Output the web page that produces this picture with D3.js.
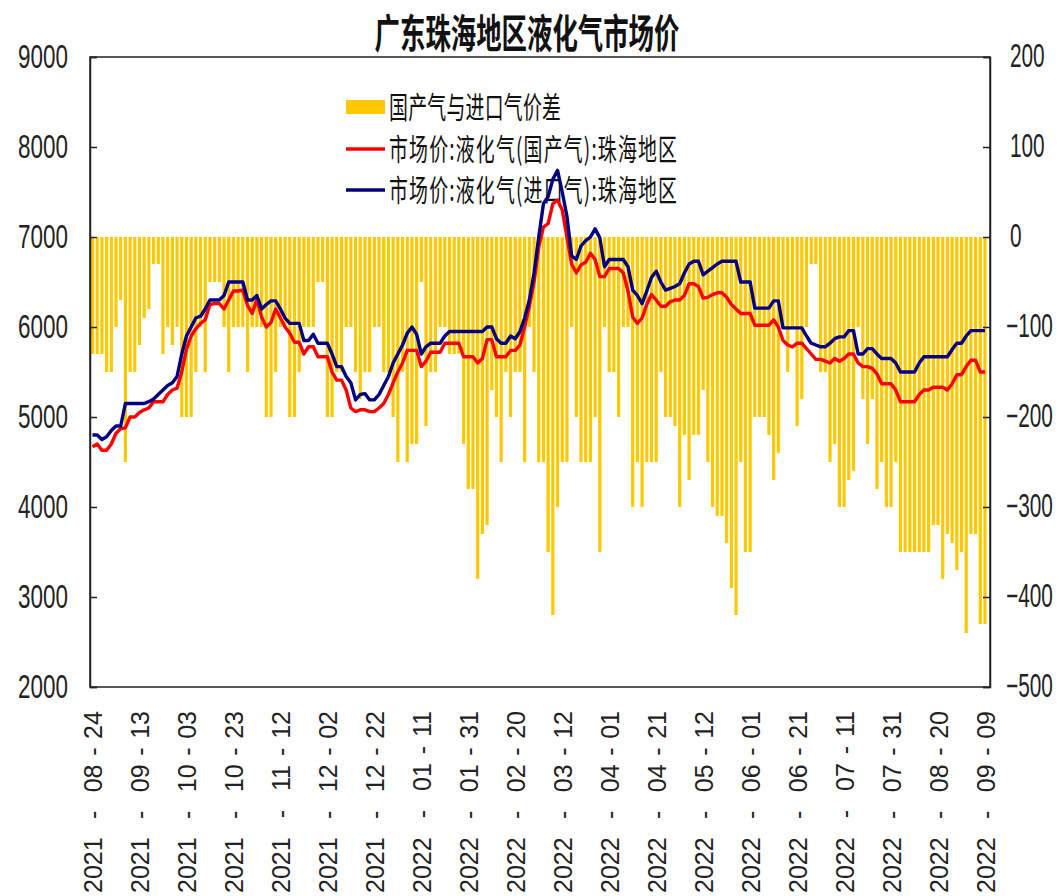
<!DOCTYPE html>
<html>
<head>
<meta charset="utf-8">
<script src="https://cdn.jsdelivr.net/npm/d3@7/dist/d3.min.js"></script>
<style>
  html, body { margin: 0; padding: 0; background: #fff; }
  svg { display: block; }
</style>
</head>
<body>
<svg id="chart" width="1059" height="896"></svg>
<script>
// ---------------- DATA ----------------
const title = "广东珠海地区液化气市场价";
const seriesNames = ["国产气与进口气价差", "市场价:液化气(国产气):珠海地区", "市场价:液化气(进口气):珠海地区"];

const tickLabels = [
  "2021-08-24","2021-09-13","2021-10-03","2021-10-23","2021-11-12",
  "2021-12-02","2021-12-22","2022-01-11","2022-01-31","2022-02-20",
  "2022-03-12","2022-04-01","2022-04-21","2022-05-12","2022-06-01",
  "2022-06-21","2022-07-11","2022-07-31","2022-08-20","2022-09-09"
];
const leftTicks = [2000,3000,4000,5000,6000,7000,8000,9000];
const rightTicks = [-500,-400,-300,-200,-100,0,100,200];

// price spread (bars, right axis)
const priceSpread = [
  -130,-130,-130,-150,-150,-100,-70,-250,-150,-150,
  -120,-90,-80,-30,-30,-130,-100,-120,-100,-200,
  -200,-200,-150,-100,-150,-50,-50,-50,-100,-150,
  -100,-100,-100,-150,-100,-100,-100,-200,-200,-150,
  -100,-100,-200,-200,-150,-100,-100,-100,-50,-50,
  -200,-200,-150,-150,-100,-100,-150,-180,-150,-150,
  -100,-100,-150,-150,-200,-250,-150,-250,-230,-230,
  -50,-210,-150,-150,-100,-100,-130,-130,-130,-230,
  -280,-280,-380,-330,-320,-170,-200,-250,-150,-200,
  -150,-150,-250,-100,-150,-250,-250,-350,-420,-300,
  -250,-250,-100,-200,-250,-250,-250,-200,-350,-100,
  -150,-150,-200,-100,-100,-300,-250,-300,-250,-250,
  -250,-150,-200,-200,-210,-300,-220,-270,-220,-220,
  -170,-250,-300,-310,-310,-340,-390,-420,-250,-350,
  -350,-200,-200,-200,-220,-270,-240,-100,-150,-100,
  -210,-180,-100,-30,-30,-150,-150,-250,-230,-300,
  -300,-270,-260,-100,-180,-230,-180,-280,-250,-300,
  -300,-250,-350,-350,-350,-350,-350,-350,-350,-320,
  -320,-380,-330,-340,-370,-350,-440,-330,-330,-430,
  -430
];

// domestic LPG price (red, left axis)
const domesticPrice = [
  4670,4700,4630,4630,4700,4820,4870,4880,5000,5000,
  5050,5080,5100,5170,5170,5170,5250,5300,5320,5500,
  5750,5900,5980,6040,6080,6250,6260,6260,6200,6300,
  6400,6400,6410,6240,6150,6310,6110,6000,6050,6200,
  6100,6000,5930,5830,5830,5700,5780,5780,5670,5670,
  5670,5500,5410,5410,5300,5100,5060,5080,5080,5060,
  5060,5100,5150,5250,5380,5500,5600,5740,5740,5740,
  5560,5620,5720,5720,5720,5820,5820,5820,5820,5670,
  5670,5670,5600,5650,5860,5860,5670,5670,5670,5740,
  5740,5800,6000,6230,6500,6890,7110,7150,7370,7410,
  7300,7000,6700,6600,6690,6720,6820,6750,6560,6560,
  6650,6650,6650,6600,6400,6110,6040,6100,6250,6360,
  6300,6230,6230,6280,6300,6300,6350,6480,6480,6450,
  6320,6330,6360,6380,6380,6330,6250,6200,6150,6150,
  6150,6020,6020,6020,6020,6080,6000,5850,5800,5780,
  5820,5820,5760,5700,5640,5640,5620,5600,5650,5620,
  5650,5700,5700,5600,5560,5560,5540,5480,5370,5370,
  5370,5300,5170,5170,5170,5170,5250,5300,5300,5330,
  5330,5330,5300,5370,5470,5470,5560,5630,5630,5500,
  5500
];

// imported LPG price (blue, left axis)
const importPrice = [
  4800,4800,4750,4780,4850,4900,4900,5150,5150,5150,
  5150,5150,5170,5200,5250,5300,5350,5380,5450,5700,
  5900,6000,6100,6120,6200,6300,6300,6300,6350,6500,
  6500,6500,6500,6300,6300,6350,6200,6250,6290,6290,
  6200,6100,6040,6040,6040,5850,5850,5920,5820,5820,
  5820,5700,5560,5560,5450,5380,5190,5250,5260,5190,
  5190,5250,5350,5450,5600,5700,5800,5930,6000,5920,
  5700,5780,5820,5820,5820,5900,5950,5950,5950,5950,
  5950,5950,5950,5950,6000,6000,5870,5820,5820,5900,
  5870,5950,6100,6300,6600,7000,7370,7450,7640,7740,
  7500,7230,6790,6750,6900,6960,7000,7090,6990,6670,
  6750,6750,6750,6750,6670,6410,6350,6260,6400,6550,
  6620,6500,6410,6430,6450,6480,6600,6700,6730,6730,
  6580,6620,6660,6700,6730,6730,6730,6730,6500,6500,
  6500,6210,6210,6210,6210,6290,6290,5990,5990,5990,
  5990,5990,5900,5820,5800,5780,5780,5820,5870,5890,
  5890,5960,5960,5700,5700,5760,5760,5700,5650,5650,
  5650,5600,5500,5500,5500,5500,5600,5670,5670,5670,
  5670,5670,5670,5750,5820,5820,5900,5960,5960,5960,
  5960
];

// ---------------- CHART ----------------
const svg = d3.select("#chart");
const L = 90, R = 990, T = 57, B = 687;
const n = priceSpread.length;
const idx = d3.range(n);

const x = d3.scaleLinear().domain([0, n - 1]).range([92.5, 985]);
const yL = d3.scaleLinear().domain([2000, 9000]).range([B, T]);
const yR = d3.scaleLinear().domain([-500, 200]).range([B, T]);

const colBar = "#FFC800", colRed = "#FF0000", colBlue = "#000080";
const fontLatin = "'Liberation Sans', Arial, sans-serif";
const fontCJK = "'Noto Sans CJK SC', 'Noto Sans', sans-serif";

// bars
const barW = 3.2;
svg.append("g").selectAll("rect").data(idx).join("rect")
  .attr("x", i => x(i) - barW / 2)
  .attr("width", barW)
  .attr("y", i => Math.min(yR(0), yR(priceSpread[i])))
  .attr("height", i => Math.abs(yR(priceSpread[i]) - yR(0)))
  .attr("fill", colBar);

// frame
svg.append("rect").attr("x", L).attr("y", T).attr("width", R - L).attr("height", B - T)
  .attr("fill", "none").attr("stroke", "#222").attr("stroke-width", 1.5);

// left axis
const sx = 0.66;
const gL = svg.append("g").attr("transform", `translate(${L},0)`)
  .call(d3.axisLeft(yL).tickValues(leftTicks).tickSize(-7).tickFormat(d3.format("d")));
gL.select(".domain").attr("stroke", "#222").attr("stroke-width", 1.5);
gL.selectAll(".tick line").attr("stroke", "#222").attr("stroke-width", 1.5);
gL.selectAll(".tick text")
  .attr("font-family", fontLatin).attr("font-size", 34).attr("fill", "#222")
  .attr("text-anchor", "end")
  .attr("transform", `scale(${sx},1)`)
  .attr("x", -22 / sx).attr("dy", "0.30em");

// right axis
const rsx = 0.63;
const gR = svg.append("g").attr("transform", `translate(${R},0)`)
  .call(d3.axisRight(yR).tickValues(rightTicks).tickSize(-7).tickFormat(d3.format("d")));
gR.select(".domain").attr("stroke", "#222").attr("stroke-width", 1.5);
gR.selectAll(".tick line").attr("stroke", "#222").attr("stroke-width", 1.5);
gR.selectAll(".tick text")
  .attr("font-family", fontLatin).attr("font-size", 33).attr("fill", "#222")
  .attr("text-anchor", "start")
  .attr("transform", `scale(${rsx},1)`)
  .attr("x", d => (d < 0 ? 16 : 20) / rsx).attr("dy", "0.30em");

// bottom axis (labels only, rotated; wide gaps around the dashes like the original)
const fsB = 25;
const labelBottom = 893, labelTop = 711;
const gB = svg.append("g").attr("transform", `translate(0,${B})`)
  .call(d3.axisBottom(x).tickValues(d3.range(0, n, 10)).tickSize(0)
    .tickFormat(i => tickLabels[i / 10]));
gB.select(".domain").remove();
gB.selectAll(".tick text").each(function(i) {
  const t = d3.select(this);
  const parts = tickLabels[i / 10].split("-");
  t.text(null)
    .attr("font-family", fontLatin).attr("font-size", fsB).attr("fill", "#222")
    .attr("text-anchor", "start")
    .attr("transform", "rotate(-90)")
    .attr("x", -(labelBottom - B)).attr("y", 9).attr("dy", null);
  const s0 = t.append("tspan").text(parts[0]);
  const d1 = t.append("tspan").attr("dx", 0).text("-");
  const s1 = t.append("tspan").attr("dx", 0).text(parts[1]);
  const d2 = t.append("tspan").attr("dx", 0).text("-");
  const s2 = t.append("tspan").attr("dx", 0).text(parts[2]);
  const natural = this.getBBox().width;
  const extra = Math.max(0, (labelBottom - labelTop) - natural);
  const gA = extra * 0.68 / 2, gC = extra * 0.32 / 2;
  d1.attr("dx", gA); s1.attr("dx", gA);
  d2.attr("dx", gC); s2.attr("dx", gC);
});

// title
svg.append("text")
  .attr("transform", `translate(527,48) scale(0.635,1)`)
  .attr("text-anchor", "middle")
  .attr("font-family", fontCJK).attr("font-weight", "bold").attr("font-size", 40)
  .attr("fill", "#111")
  .text(title);

// legend
const lgX = 346, lgW = 39, lgTextX = 389;
const lsx = 0.63;
const rows = [107, 149, 190];
const lgLen = [172, 288, 288];
svg.append("rect").attr("x", lgX).attr("y", rows[0] - 7).attr("width", lgW).attr("height", 14).attr("fill", colBar);
svg.append("line").attr("x1", lgX).attr("x2", lgX + lgW).attr("y1", rows[1]).attr("y2", rows[1])
  .attr("stroke", colRed).attr("stroke-width", 3.5);
svg.append("line").attr("x1", lgX).attr("x2", lgX + lgW).attr("y1", rows[2]).attr("y2", rows[2])
  .attr("stroke", colBlue).attr("stroke-width", 3.5);
seriesNames.forEach((s, k) => {
  svg.append("text")
    .attr("transform", `translate(${lgTextX},${rows[k] + 11}) scale(${lsx},1)`)
    .attr("font-family", fontCJK).attr("font-size", 30).attr("fill", "#111")
    .attr("textLength", lgLen[k] / lsx).attr("lengthAdjust", "spacing")
    .text(s);
});

// lines
const line = arr => d3.line().x((d, i) => x(i)).y(d => yL(d))(arr);
svg.append("path").attr("d", line(domesticPrice)).attr("fill", "none")
  .attr("stroke", colRed).attr("stroke-width", 3.4).attr("stroke-linejoin", "round");
svg.append("path").attr("d", line(importPrice)).attr("fill", "none")
  .attr("stroke", colBlue).attr("stroke-width", 3.4).attr("stroke-linejoin", "round");
</script>
</body>
</html>
